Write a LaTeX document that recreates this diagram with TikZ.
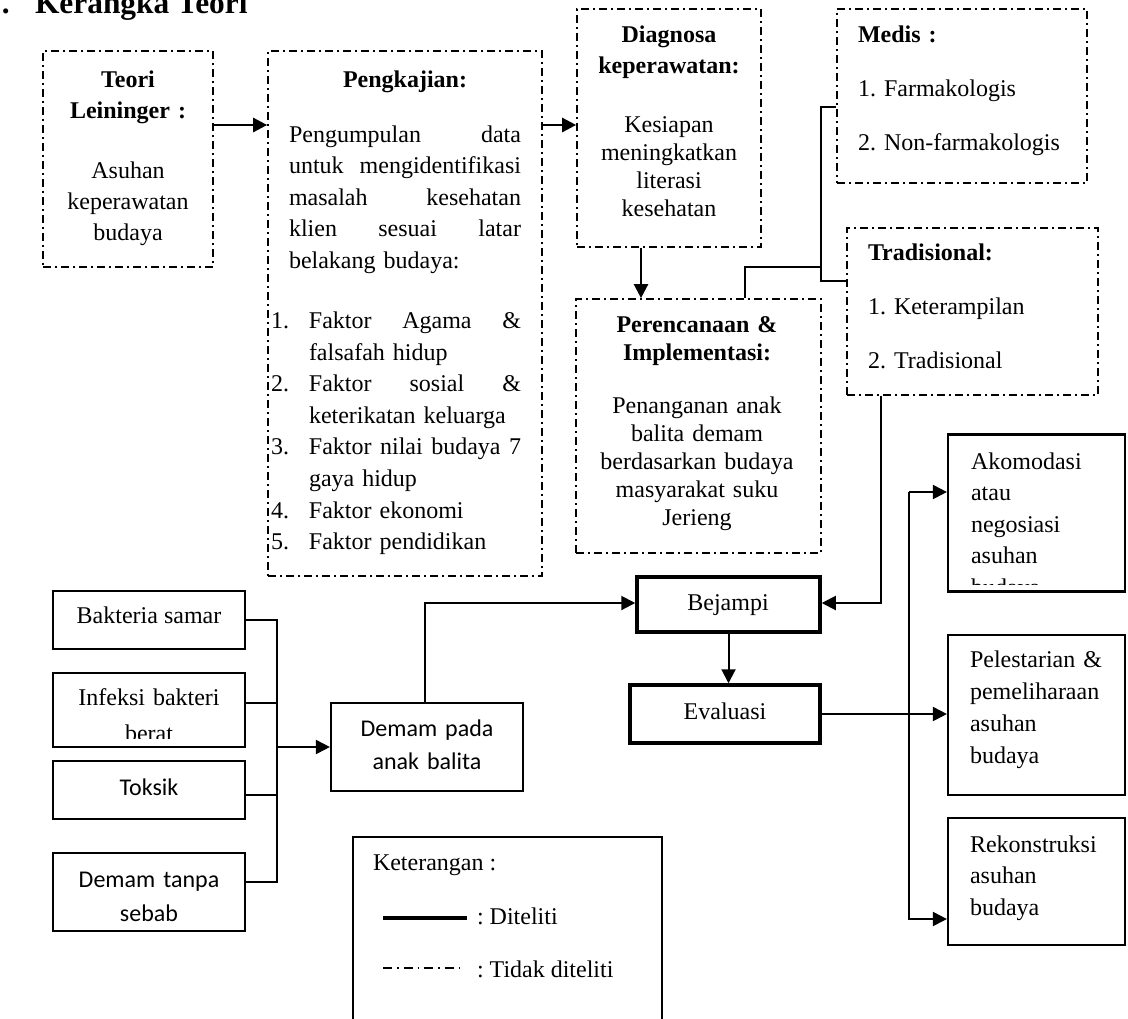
\documentclass[tikz,border=0pt]{standalone}
\usepackage{fontspec}
\setmainfont{Liberation Serif}
\newfontfamily\calibri{Carlito}
\usetikzlibrary{arrows.meta,calc}
\begin{document}
\frenchspacing
\begin{tikzpicture}[x=0.5pt,y=-0.5pt,
  dashdot/.style={line width=0.85pt,dash pattern=on 4pt off 2pt on 1pt off 2pt},
  dbox/.style={draw,dashdot,rectangle,inner sep=0pt},
  sbox/.style={draw,line width=1.1pt,rectangle,inner sep=0pt},
  tbox/.style={draw,line width=1.75pt,rectangle,inner sep=0pt},
  conn/.style={line width=1pt},
  arr/.style={line width=1pt,-{Triangle[length=7pt,width=7pt]}},
  txt/.style={inner sep=0pt,outer sep=0pt}]
\useasboundingbox (0,0) rectangle (1128,1018);
\clip (0,0) rectangle (1128,1018);

% title
\node[txt,anchor=base west,font=\fontsize{15.7}{18}\selectfont\bfseries] (tdot) at (2,13) {.};
\node[txt,anchor=base west,font=\fontsize{15.7}{18}\selectfont\bfseries] (title) at (35,13) {Kerangka Teori};

% boxes
\node[dbox,minimum width=85pt,minimum height=108pt] (teori) at (128,159) {};
\node[dbox,minimum width=137pt,minimum height=262.5pt] (peng) at (405,313.5) {};
\node[dbox,minimum width=92pt,minimum height=119pt] (diag) at (669,128) {};
\node[dbox,minimum width=125pt,minimum height=87pt] (medis) at (962,96) {};
\node[dbox,minimum width=125.5pt,minimum height=83.5pt] (trad) at (972.5,311.5) {};
\node[dbox,minimum width=122.5pt,minimum height=127pt] (peren) at (698.5,426) {};
\node[sbox,minimum width=88.5pt,minimum height=78.5pt] (akom) at (1036.5,513) {};
\node[tbox,minimum width=91.5pt,minimum height=27.5pt] (bej) at (728.5,604.5) {};
\node[tbox,minimum width=95pt,minimum height=29pt] (eval) at (725,714) {};
\node[sbox,minimum width=88.5pt,minimum height=80pt] (pel) at (1036.5,715) {};
\node[sbox,minimum width=88.5pt,minimum height=63.5pt] (rek) at (1036.5,881.5) {};
\node[sbox,minimum width=96pt,minimum height=29pt] (bak) at (149,620) {};
\node[sbox,minimum width=96pt,minimum height=37pt] (inf) at (149,710) {};
\node[sbox,minimum width=96pt,minimum height=29pt] (tok) at (149,790) {};
\node[sbox,minimum width=96pt,minimum height=39pt] (dtan) at (149,892) {};
\node[sbox,minimum width=96pt,minimum height=44pt] (dpada) at (427,747) {};
\node[sbox,minimum width=154.5pt,minimum height=101.5pt] (ket) at (507.5,938.5) {};

% texts
\node[txt,anchor=north,text width=80pt,align=center,font=\fontsize{12}{15.5}\selectfont] (teoriT) at (128,65.3)
  {\strut\textbf{Teori}\\ \textbf{Leininger :}\\[14.5pt] Asuhan\\ keperawatan\\ budaya};
\node[txt,anchor=base,font=\fontsize{12}{14}\selectfont\bfseries] (pengH) at (405,87) {Pengkajian:};
\node[txt,anchor=north west,text width=125pt,align=left,font=\fontsize{12}{15.8}\selectfont] (pengT) at (271,119.9)
  {\strut\hspace*{9pt}Pengumpulan\hfill data\\
   \hspace*{9pt}untuk\hfill mengidentifikasi\\
   \hspace*{9pt}masalah\hfill kesehatan\\
   \hspace*{9pt}klien\hfill sesuai\hfill latar\\
   \hspace*{9pt}belakang budaya:\\[14.2pt]
   \makebox[19pt][l]{1.}Faktor\hfill Agama\hfill \&\\
   \hspace*{19pt}falsafah hidup\\
   \makebox[19pt][l]{2.}Faktor\hfill sosial\hfill \&\\
   \hspace*{19pt}keterikatan keluarga\\
   \makebox[19pt][l]{3.}Faktor\hfill nilai\hfill budaya\hfill 7\\
   \hspace*{19pt}gaya hidup\\
   \makebox[19pt][l]{4.}Faktor ekonomi\\
   \makebox[19pt][l]{5.}Faktor pendidikan};
\node[txt,anchor=north,text width=88pt,align=center,font=\fontsize{12}{14}\selectfont] (diagT) at (669,22.4)
  {\strut\textbf{Diagnosa}\\[1.5pt] \textbf{keperawatan:}\\[15.5pt] Kesiapan\\ meningkatkan\\ literasi\\ kesehatan};
\node[txt,anchor=north west,text width=115pt,align=left,font=\fontsize{12}{27}\selectfont] (medisT) at (858,4.2)
  {\strut\textbf{Medis :}\\ 1. Farmakologis\\ 2. Non-farmakologis};
\node[txt,anchor=north west,text width=115pt,align=left,font=\fontsize{12}{27}\selectfont] (tradT) at (868,222.2)
  {\strut\textbf{Tradisional:}\\ 1. Keterampilan\\ 2. Tradisional};
\node[txt,anchor=north,text width=115pt,align=center,font=\fontsize{12}{14}\selectfont] (perenT) at (697,312.4)
  {\strut\textbf{Perencanaan \&}\\ \textbf{Implementasi:}\\[12.5pt] Penanganan anak\\ balita demam\\ berdasarkan budaya\\ masyarakat suku\\ Jerieng};
\begin{scope}
  \clip (akom.north west) rectangle ($(akom.south east)+(0,-8)$);
  \node[txt,anchor=north west,text width=75pt,align=left,font=\fontsize{12}{15.8}\selectfont] (akomT) at (971,446.9)
    {\strut Akomodasi\\ atau\\ negosiasi\\ asuhan\\ budaya};
\end{scope}
\node[txt,anchor=north west,text width=75pt,align=left,font=\fontsize{12}{16}\selectfont] (pelT) at (970,644.6)
  {\strut Pelestarian \&\\ pemeliharaan\\ asuhan\\ budaya};
\node[txt,anchor=north west,text width=75pt,align=left,font=\fontsize{12}{15.75}\selectfont] (rekT) at (970,830)
  {\strut Rekonstruksi\\ asuhan\\ budaya};
\node[txt,anchor=base,font=\fontsize{12}{14}\selectfont] (bejT) at (728,610) {Bejampi};
\node[txt,anchor=base,font=\fontsize{12}{14}\selectfont] (evalT) at (725,719) {Evaluasi};
\node[txt,anchor=base,font=\fontsize{12}{14}\selectfont] (bakT) at (149,623) {Bakteria samar};
\begin{scope}
  \clip (inf.north west) rectangle ($(inf.south east)+(0,-10)$);
  \node[txt,anchor=north,text width=90pt,align=center,font=\fontsize{12}{18}\selectfont] (infT) at (149,679.8)
    {\strut Infeksi bakteri\\ berat};
\end{scope}
\node[txt,anchor=base,font=\fontsize{12}{14}\selectfont\calibri] (tokT) at (149,795) {Toksik};
\node[txt,anchor=north,text width=90pt,align=center,font=\fontsize{12}{17}\selectfont\calibri] (dtanT) at (149,863.2)
  {\strut Demam tanpa\\ sebab};
\node[txt,anchor=north,text width=90pt,align=center,font=\fontsize{12}{16.5}\selectfont\calibri] (dpadaT) at (427,712.9)
  {\strut Demam pada\\ anak balita};
\node[txt,anchor=base west,font=\fontsize{12}{14}\selectfont] (ketT) at (373,870) {Keterangan :};
\node[txt,anchor=base west,font=\fontsize{12}{14}\selectfont] (ket1) at (477,924) {: Diteliti};
\node[txt,anchor=base west,font=\fontsize{12}{14}\selectfont] (ket2) at (477,977) {: Tidak diteliti};

% legend samples
\coordinate (lg1a) at (383,918); \coordinate (lg1b) at (467,918);
\coordinate (lg2a) at (383,968); \coordinate (lg2b) at (465,968);
\draw[line width=1.6pt] (lg1a) -- (lg1b);
\draw[line width=0.6pt,dash pattern=on 4.5pt off 2.5pt on 0.8pt off 2.5pt] (lg2a) -- (lg2b);

% connectors
\path ($(teori.east)+(0,-34)$) coordinate (a1);
\draw[arr,line width=1.3pt] (a1) -- (a1 -| peng.west);
\path ($(diag.west)+(0,-3)$) coordinate (a2);
\draw[arr,line width=1.3pt] (a2 -| peng.east) -- (a2);
\path ($(diag.south)+(-28,0)$) coordinate (a3);
\draw[arr,line width=1.2pt] (a3) -- (a3 |- peren.north);
\path ($(peren.north)+(46.5,0)$) coordinate (a4);
\coordinate (j1) at (821,267);
\coordinate (j2) at (821,107);
\coordinate (j3) at (821,281);
\draw[conn] (a4) |- (j1);
\draw[conn] (medis.west |- j2) -- (j2) -- (j3) -- (trad.west |- j3);
\path ($(trad.south)+(-91.5,0)$) coordinate (a5);
\draw[arr] (a5) |- ($(bej.east)+(0,-1.5)$);
\path ($(dpada.north)+(-2,0)$) coordinate (a6);
\draw[arr] (a6) |- ($(bej.west)+(0,-1.5)$);
\draw[arr] (bej.south) -- (bej.south |- eval.north);
\draw[arr] (eval.east) -- (eval.east -| pel.west);
\coordinate (r1) at (909,492);
\coordinate (r2) at (909,919);
\draw[arr] (r1) -- (r1 -| akom.west);
\draw[arr] (r1) -- (r2) -- (r2 -| rek.west);
\coordinate (busL) at (277,620);
\path ($(inf.east)+(0,-7)$) coordinate (s2);
\path ($(tok.east)+(0,5)$) coordinate (s3);
\path ($(dtan.east)+(0,-10)$) coordinate (s4);
\draw[conn] (bak.east) -- (bak.east -| busL) -- (s4 -| busL) -- (s4);
\draw[conn] (s2) -- (s2 -| busL);
\draw[conn] (s3) -- (s3 -| busL);
\draw[arr] (dpada.west -| busL) -- (dpada.west);
\end{tikzpicture}
\end{document}
